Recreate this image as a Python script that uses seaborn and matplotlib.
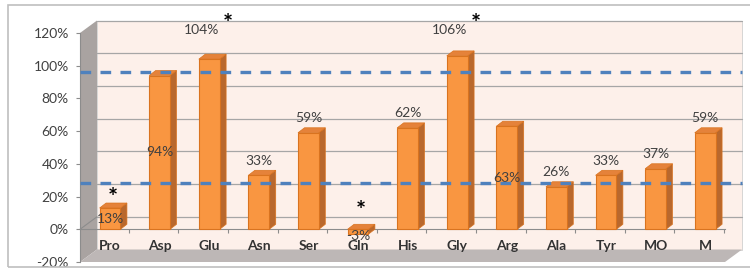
import numpy as np
import pandas as pd
import matplotlib
matplotlib.use('Agg')
import matplotlib.pyplot as plt
from matplotlib.patches import Polygon, Rectangle
import seaborn as sns

# ── data ────────────────────────────────────────────────────────────────
amino_acids = ['Pro', 'Asp', 'Glu', 'Asn', 'Ser', 'Gln', 'His', 'Gly',
               'Arg', 'Ala', 'Tyr', 'MO', 'M']
recovery = [13, 94, 104, 33, 59, -3, 62, 106, 63, 26, 33, 37, 59]
significant = ['Pro', 'Glu', 'Gln', 'Gly']
ref_lines = [96, 28]
y_ticks = [-20, 0, 20, 40, 60, 80, 100, 120]

df = pd.DataFrame({'aa': amino_acids, 'pct': recovery})

# ── colours ─────────────────────────────────────────────────────────────
front_c = '#F99641'
side_c = '#B9682D'
top_c = '#E5823A'
edge_c = '#D9731F'
wall_c = '#FDF0EA'
sidewall_c = '#A9A3A1'
floor_c = '#BDB7B6'
grid_c = '#A6A6A6'
axis_c = '#8C8C8C'
text_c = '#404040'
dash_c = '#4F81BD'

sns.set_style('white')
plt.rcParams['font.family'] = ['Lato', 'DejaVu Sans']

W, H = 750, 268
fig = plt.figure(figsize=(W / 100, H / 100), dpi=100)
fig.patch.set_facecolor('white')
fig.patches.append(Rectangle((8 / W, 1 / H), 760 / W, 262 / H, transform=fig.transFigure,
                             fill=False, edgecolor='#BFBFBF', linewidth=1.2))

ax = fig.add_axes([80 / W, 6 / H, 645 / W, 229 / H])
ax.set_facecolor('none')
ax.set_axisbelow(False)

sns.barplot(data=df, x='aa', y='pct', color=front_c, saturation=1, width=0.42,
            edgecolor=edge_c, linewidth=0.8, ax=ax, zorder=4)

x_lo, x_hi = -0.605, 12.40
y_lo, y_hi = -20, 120
ax.set_xlim(x_lo, x_hi)
ax.set_ylim(y_lo, y_hi)

# pixel -> data conversions for the pseudo-3D depth
px_x = 645 / (x_hi - x_lo)
px_y = 229 / (y_hi - y_lo)
wall_dx, wall_dy = 17 / px_x, 12.5 / px_y
bar_dx, bar_dy = 6.5 / px_x, 5 / px_y

# back wall, side wall, floor
ax.add_patch(Rectangle((x_lo + wall_dx, y_lo + wall_dy), x_hi - x_lo, y_hi - y_lo,
                       facecolor=wall_c, edgecolor='#D0D0D0', lw=0.6, zorder=0, clip_on=False))
ax.add_patch(Polygon([(x_lo, y_lo), (x_lo, y_hi), (x_lo + wall_dx, y_hi + wall_dy),
                      (x_lo + wall_dx, y_lo + wall_dy)],
                     facecolor=sidewall_c, edgecolor='none', zorder=0.4, clip_on=False))
ax.add_patch(Polygon([(x_lo, y_lo), (x_hi, y_lo), (x_hi + wall_dx, y_lo + wall_dy),
                      (x_lo + wall_dx, y_lo + wall_dy)],
                     facecolor=floor_c, edgecolor='none', zorder=0.4, clip_on=False))

for t in y_ticks[1:]:
    ax.plot([x_lo + wall_dx, x_hi + wall_dx], [t + wall_dy, t + wall_dy],
            color=grid_c, lw=0.9, zorder=0.2, clip_on=False)
ax.plot([x_lo, x_lo + wall_dx], [0, wall_dy], color=axis_c, lw=0.8, zorder=1.5, clip_on=False)

# 3D faces of the bars
for p in list(ax.patches):
    if p.get_facecolor()[:3] != matplotlib.colors.to_rgb(front_c):
        continue
    x0, w = p.get_x(), p.get_width()
    top = max(p.get_y(), p.get_y() + p.get_height())
    bot = min(p.get_y(), p.get_y() + p.get_height())
    ax.add_patch(Polygon([(x0 + w, bot), (x0 + w, top), (x0 + w + bar_dx, top + bar_dy),
                          (x0 + w + bar_dx, bot + bar_dy)],
                         facecolor=side_c, edgecolor=edge_c, lw=0.5, zorder=3.5))
    ax.add_patch(Polygon([(x0, top), (x0 + w, top), (x0 + w + bar_dx, top + bar_dy),
                          (x0 + bar_dx, top + bar_dy)],
                         facecolor=top_c, edgecolor=edge_c, lw=0.5, zorder=3.5))

# value labels (placed the way the original chart places them)
for i, (aa, v) in enumerate(zip(amino_acids, recovery)):
    lx = i
    if v > 100:
        lx, ly = i - 0.16, 122
    elif v < 0:
        ly = v - 1
    elif aa in ('Pro', 'Asp', 'Arg'):
        ly = v / 2
    else:
        ly = v + 9
    ax.text(lx, ly, f'{v}%', ha='center', va='center', fontsize=10,
            color=text_c, zorder=6, clip_on=False)
    if aa in significant:
        if v > 100:
            sx, sy = i + 0.38, 125
        else:
            sx, sy = i + 0.05, max(v, 0) + (6 if v > 0 else 11)
        ax.text(sx, sy, '*', ha='center', va='center', fontsize=17,
                fontweight='bold', color='black', zorder=6, clip_on=False)

# dashed reference lines drawn over everything
for r in ref_lines:
    ax.plot([x_lo, x_hi + wall_dx], [r, r], color=dash_c, lw=2.4,
            dashes=(3.2, 2.8), zorder=7, clip_on=False)

# axes
for s in ['top', 'right']:
    ax.spines[s].set_visible(False)
ax.spines['left'].set_color(axis_c)
ax.spines['bottom'].set_color(axis_c)
ax.spines['bottom'].set_position(('data', 0))

ax.set_yticks(y_ticks)
ax.set_yticklabels([f'{t}%' for t in y_ticks])
ax.tick_params(axis='y', direction='out', length=3, width=0.8, color=axis_c,
               labelsize=10, labelcolor=text_c, pad=5, left=True)

ax.set_xticks(range(len(amino_acids)))
ax.set_xticklabels(amino_acids, fontweight='bold')
ax.set_xticks(np.arange(len(amino_acids)) + 0.38, minor=True)
ax.tick_params(axis='x', which='major', length=0, pad=8, labelsize=10, labelcolor='#333333')
ax.tick_params(axis='x', which='minor', direction='out', length=3, width=0.8,
               color=axis_c, bottom=True)
ax.set_xlabel('')
ax.set_ylabel('')

fig.savefig('out.png', dpi=100)
